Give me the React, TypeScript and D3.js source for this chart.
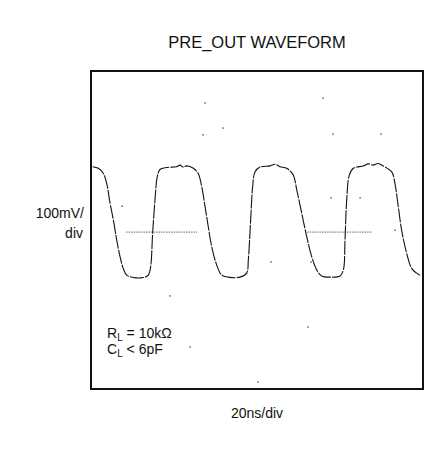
import React from "react";
import * as d3 from "d3";

// scope trace: time in ns (20ns/div), level in mV (100mV/div)
const timeNs = [1.6, 5.0, 8.0, 10.0, 12.0, 14.0, 16.0, 18.0, 19.9, 22.0, 25.9, 31.9, 34.9, 36.3, 37.5, 38.9, 40.3, 41.9, 45.9, 51.9, 53.9, 55.7, 57.9, 61.9, 64.8, 66.9, 68.9, 70.8, 72.9, 75.9, 78.9, 82.8, 89.8, 93.8, 94.8, 96.2, 97.4, 98.8, 101.8, 107.8, 110.8, 113.8, 117.8, 121.7, 123.8, 126.8, 129.8, 132.8, 135.8, 138.7, 143.7, 149.7, 151.7, 152.7, 153.7, 155.3, 157.7, 163.7, 166.5, 169.6, 172.5, 175.6, 180.7, 182.6, 184.6, 186.6, 189.6, 192.6, 195.6, 197.6];
const levelMv = [160, 156, 143, 118, 69, 26, -24, -66, -95, -112, -118, -118, -112, -91, -7, 76, 135, 153, 158, 160, 164, 159, 162, 156, 143, 110, 60, 10, -41, -87, -112, -117, -117, -107, -74, 26, 110, 147, 159, 162, 166, 160, 156, 139, 102, 43, -16, -66, -99, -114, -117, -114, -99, -24, 76, 139, 156, 162, 167, 164, 168, 162, 147, 118, 60, 1, -57, -95, -107, -112];

// dotted reference segments at mid level
const refLevel = -4;
const refStart = [21.6, 130.0];
const refEnd = [64.1, 168.9];

// stray graticule dots
const dotT = [68.9, 139.5, 79.6, 67.7, 145.5, 174.3, 19.2, 144.3, 161.7, 182.6, 108.4, 132.3, 47.9, 130.5, 59.9, 100.6];
const dotV = [320, 332, 257, 240, 242, 242, 61, 82, 82, 1, -79, -79, -164, -242, -292, -380];

const title = "PRE_OUT WAVEFORM";
const yLabel = ["100mV/", "div"];
const xLabel = "20ns/div";

const W = 428;
const H = 451;
const frame = { left: 91, top: 71, right: 423, bottom: 389 };

const App = () => {
  const x = d3.scaleLinear().domain([0, 200]).range([90, 424]);
  const y = d3.scaleLinear().domain([-400, 400]).range([390, 71]);

  const pts: [number, number][] = timeNs.map((t, i) => [t, levelMv[i]]);
  const line = d3
    .line<[number, number]>()
    .x((d) => x(d[0]))
    .y((d) => y(d[1]))
    .curve(d3.curveCatmullRom.alpha(0.5));

  const font = "'Liberation Sans', Arial, sans-serif";

  return (
    <svg width={W} height={H} style={{ position: "absolute", left: 0, top: 0, background: "#fff" }}>
      <text x={257} y={48} textAnchor="middle" fontFamily={font} fontSize={16.5} fill="#111">
        {title}
      </text>
      <rect
        x={frame.left}
        y={frame.top}
        width={frame.right - frame.left}
        height={frame.bottom - frame.top}
        fill="none"
        stroke="#111"
        strokeWidth={2}
      />
      {dotT.map((t, i) => (
        <rect key={i} x={x(t) - 0.6} y={y(dotV[i]) - 0.6} width={1.3} height={1.3} fill="#333" />
      ))}
      {refStart.map((s, i) => (
        <line
          key={i}
          x1={x(s)}
          x2={x(refEnd[i])}
          y1={y(refLevel)}
          y2={y(refLevel)}
          stroke="#555"
          strokeWidth={0.9}
          strokeDasharray="1.5 1"
        />
      ))}
      <path d={line(pts) || ""} fill="none" stroke="#111" strokeWidth={1.1} strokeDasharray="14 1.2" />
      <text x={84} y={218} textAnchor="end" fontFamily={font} fontSize={14} fill="#111">
        {yLabel[0]}
      </text>
      <text x={83} y={238} textAnchor="end" fontFamily={font} fontSize={14} fill="#111">
        {yLabel[1]}
      </text>
      <text x={257} y={418} textAnchor="middle" fontFamily={font} fontSize={14} fill="#111">
        {xLabel}
      </text>
      <text x={107} y={338} fontFamily={font} fontSize={14} fill="#111">
        R<tspan fontSize={10} dy={3}>L</tspan>
        <tspan dy={-3}> = 10kΩ</tspan>
      </text>
      <text x={107} y={354} fontFamily={font} fontSize={14} fill="#111">
        C<tspan fontSize={10} dy={3}>L</tspan>
        <tspan dy={-3}> &lt; 6pF</tspan>
      </text>
    </svg>
  );
};

export default App;
